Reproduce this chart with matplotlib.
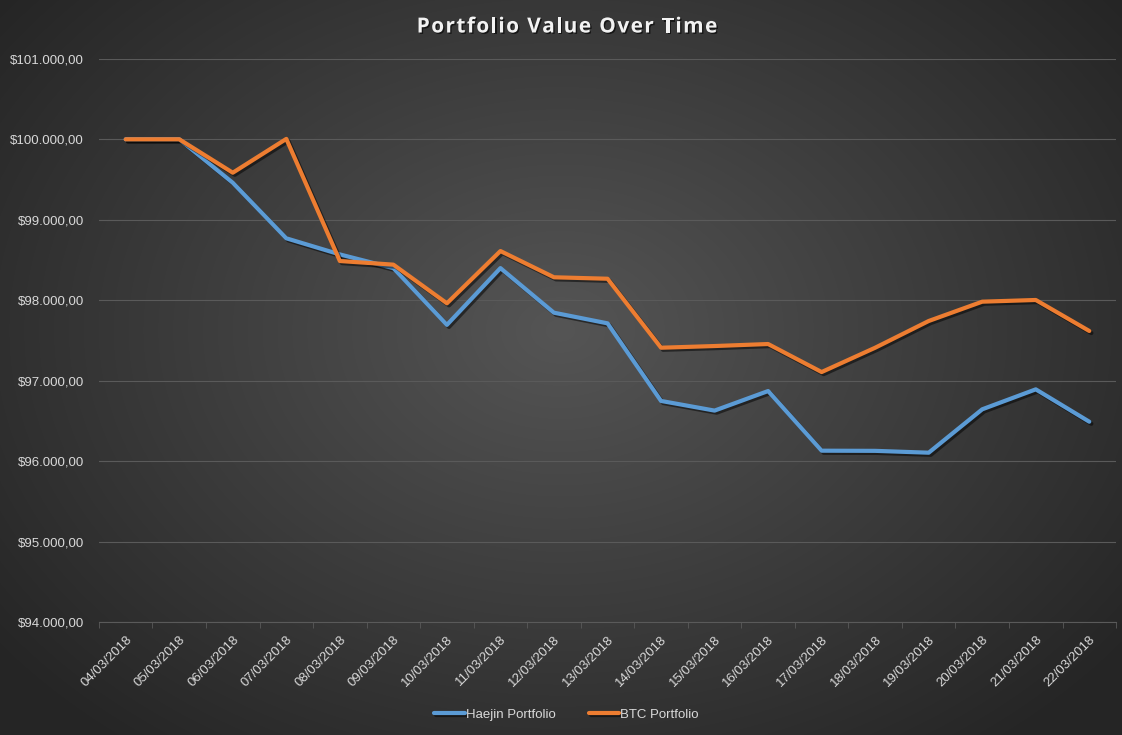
import matplotlib
matplotlib.use('Agg')
import matplotlib.pyplot as plt
import matplotlib.patheffects as pe
import numpy as np

dates = ['04/03/2018', '05/03/2018', '06/03/2018', '07/03/2018', '08/03/2018',
         '09/03/2018', '10/03/2018', '11/03/2018', '12/03/2018', '13/03/2018',
         '14/03/2018', '15/03/2018', '16/03/2018', '17/03/2018', '18/03/2018',
         '19/03/2018', '20/03/2018', '21/03/2018', '22/03/2018']
haejin = [100000, 100000, 99460, 98770, 98570, 98400, 97695, 98400, 97846, 97714,
          96750, 96630, 96873, 96132, 96130, 96107, 96646, 96894, 96492]
btc = [100000, 100000, 99585, 100005, 98488, 98443, 97963, 98612, 98286, 98268,
       97411, 97432, 97457, 97109, 97411, 97743, 97983, 98004, 97619]
title = 'Portfolio Value Over Time'

text_col = '#d9d9d9'
grid_col = '#5a5a5a'

fig = plt.figure(figsize=(11.22, 7.35), dpi=100)

# radial gradient background
bg = fig.add_axes([0, 0, 1, 1], zorder=0)
yy, xx = np.mgrid[0:735, 0:1122]
r = np.sqrt(((xx - 560) / 700.0) ** 2 + ((yy - 330) / 520.0) ** 2)
r = np.clip(r, 0, 1)
inner = np.array([0x55, 0x55, 0x55]) / 255.0
outer = np.array([0x26, 0x26, 0x26]) / 255.0
img = inner[None, None, :] * (1 - r[..., None]) + outer[None, None, :] * r[..., None]
bg.imshow(img, aspect='auto', extent=[0, 1, 0, 1], origin='upper')
bg.axis('off')

ax = fig.add_axes([0.0882, 0.1533, 0.9065, 0.7667], zorder=1)
ax.set_facecolor('none')

x = np.arange(len(dates))
shadow = [pe.SimpleLineShadow(offset=(1.5, -1.5), shadow_color='black', alpha=0.5), pe.Normal()]
ax.plot(x, haejin, color='#5b9bd5', lw=3, label='Haejin Portfolio',
        solid_capstyle='round', solid_joinstyle='round', path_effects=shadow)
ax.plot(x, btc, color='#ed7d31', lw=3, label='BTC Portfolio',
        solid_capstyle='round', solid_joinstyle='round', path_effects=shadow)

ax.set_xlim(-0.5, len(dates) - 0.5)
ax.set_ylim(94000, 101000)
ax.set_yticks(np.arange(94000, 101001, 1000))
ax.set_yticklabels(['${:,.2f}'.format(v).replace(',', 'X').replace('.', ',').replace('X', '.')
                    for v in np.arange(94000, 101001, 1000)])
ax.yaxis.grid(True, color=grid_col, lw=0.8)
ax.set_axisbelow(True)

ax.set_xticks(x)
ax.set_xticklabels(dates, rotation=45, ha='right', rotation_mode='anchor')
ax.set_xticks(np.arange(-0.5, len(dates)), minor=True)
ax.tick_params(axis='x', which='major', length=0, pad=8, colors=text_col, labelsize=9.5)
ax.tick_params(axis='x', which='minor', length=4, color=grid_col, direction='out')
ax.tick_params(axis='y', length=0, pad=11, colors=text_col, labelsize=9.5)
for lab in ax.get_xticklabels() + ax.get_yticklabels():
    lab.set_family('Liberation Sans')

for s in ['top', 'right', 'left']:
    ax.spines[s].set_visible(False)
ax.spines['bottom'].set_color(grid_col)
ax.spines['bottom'].set_linewidth(0.8)

# title with a bit of letter spacing, placed char by char
renderer = fig.canvas.get_renderer()
tkw = dict(color='#f2f2f2', fontsize=15, fontweight='bold', family='Open Sans', va='center',
           path_effects=[pe.withSimplePatchShadow(offset=(1, -1), shadow_rgbFace='black', alpha=0.6)])
spacing = 1.4
widths = []
for i in range(len(title) + 1):
    t = fig.text(0, 0, title[:i] + '|', **tkw)
    widths.append(t.get_window_extent(renderer).width)
    t.remove()
bar_w = widths[0]
total = widths[-1] - bar_w + spacing * (len(title) - 1)
x0 = 567 - total / 2
for i, ch in enumerate(title):
    if ch == ' ':
        continue
    px = x0 + widths[i] - bar_w + spacing * i
    fig.text(px / 1122, 1 - 27 / 735, ch, ha='left', **tkw)

leg = fig.legend(loc='center', bbox_to_anchor=(0.505, 0.028), ncol=2, frameon=False,
                 handlelength=2.3, handletextpad=0.1, columnspacing=2.5,
                 prop={'family': 'Liberation Sans', 'size': 9.5})
for t in leg.get_texts():
    t.set_color(text_col)

fig.savefig('out.png', dpi=100)
